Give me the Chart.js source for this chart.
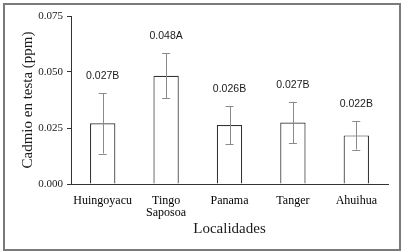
<!DOCTYPE html>
<html><head><meta charset="utf-8">
<script src="https://cdn.jsdelivr.net/npm/chart.js@4"></script>
<style>
html,body{margin:0;padding:0;background:#fff;}
#wrap{position:absolute;left:0;top:0;width:403px;height:252px;}
#frame{position:absolute;left:3px;top:3px;width:394px;height:244px;border:2px solid #7a7a7a;pointer-events:none;}
</style></head><body>
<div id="wrap"><canvas id="c" width="403" height="252"></canvas><div id="frame"></div></div>
<script>
const categories = ['Huingoyacu', ['Tingo','Saposoa'], 'Panama', 'Tanger', 'Ahuihua'];
const means = [0.0271, 0.0483, 0.0263, 0.0274, 0.0217];
const errors = [0.0135, 0.0101, 0.0085, 0.0093, 0.0063];
const valueLabels = ['0.027B', '0.048A', '0.026B', '0.027B', '0.022B'];
const yTicks = [0, 0.025, 0.05, 0.075];

const SERIF = '"Liberation Serif", "Times New Roman", serif';

const errPlugin = {
  id: 'err',
  afterDatasetsDraw(chart) {
    const ctx = chart.ctx;
    const meta = chart.getDatasetMeta(0);
    const y = chart.scales.y;
    ctx.save();
    meta.data.forEach((bar, i) => {
      const x = bar.x;
      const top = y.getPixelForValue(means[i] + errors[i]);
      const bot = y.getPixelForValue(means[i] - errors[i]);
      ctx.strokeStyle = '#8a8a8a';
      ctx.lineWidth = 1;
      ctx.beginPath();
      ctx.moveTo(Math.round(x) + 0.5, top); ctx.lineTo(Math.round(x) + 0.5, bot);
      ctx.moveTo(x - 4, Math.round(top) + 0.5); ctx.lineTo(x + 4, Math.round(top) + 0.5);
      ctx.moveTo(x - 4, Math.round(bot) + 0.5); ctx.lineTo(x + 4, Math.round(bot) + 0.5);
      ctx.stroke();
      ctx.fillStyle = '#1a1a1a';
      ctx.font = '10.5px "Liberation Sans", Arial, sans-serif';
      ctx.textAlign = 'center';
      ctx.textBaseline = 'middle';
      ctx.fillText(valueLabels[i], x, top - 17);
    });
    ctx.restore();
  }
};

new Chart(document.getElementById('c'), {
  type: 'bar',
  data: {
    labels: categories,
    datasets: [{
      data: means,
      backgroundColor: '#ffffff',
      borderColor: '#333333',
      borderWidth: 1.2,
      categoryPercentage: 1.0,
      barPercentage: 0.4
    }]
  },
  options: {
    responsive: false,
    animation: false,
    devicePixelRatio: 1,
    layout: { padding: { left: 15, right: 15, top: 16, bottom: 12 } },
    plugins: { legend: { display: false }, tooltip: { enabled: false } },
    scales: {
      x: {
        grid: { display: false },
        border: { display: true, color: '#333', width: 1 },
        ticks: { color: '#000', font: { family: SERIF, size: 12, lineHeight: 1.0 }, maxRotation: 0, padding: 3 },
        title: { display: true, text: 'Localidades', color: '#1a1a1a', font: { family: SERIF, size: 15 }, padding: { top: 2, bottom: 2 } },
        afterFit(s) { s.height = 56; }
      },
      y: {
        min: 0, max: 0.075,
        afterBuildTicks(s) { s.ticks = yTicks.map(v => ({ value: v })); },
        grid: { drawOnChartArea: false, drawTicks: true, tickLength: 4, color: '#333' },
        border: { display: true, color: '#333', width: 1 },
        ticks: { color: '#1a1a1a', font: { family: SERIF, size: 11 }, padding: 4,
          callback: v => v.toFixed(3) },
        title: { display: true, text: 'Cadmio en testa (ppm)', color: '#1a1a1a', font: { family: SERIF, size: 15 }, padding: { top: 4, bottom: 2 } },
        afterFit(s) { s.width = 56; }
      }
    }
  },
  plugins: [errPlugin]
});
</script>
</body></html>
